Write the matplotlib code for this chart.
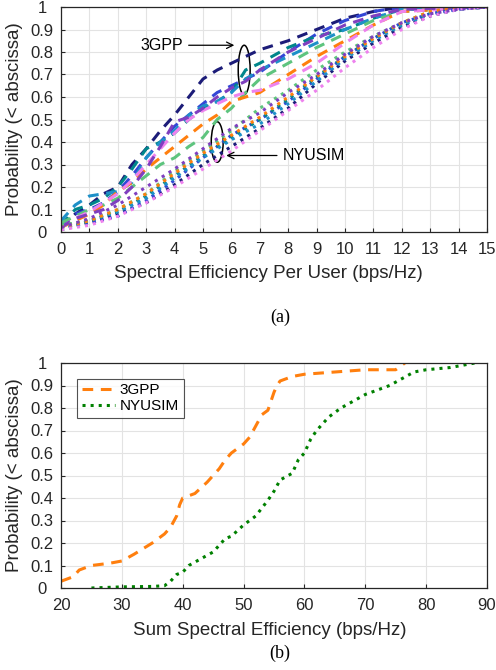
import numpy as np
import matplotlib.pyplot as plt
from matplotlib.patches import Ellipse

plt.rcParams['font.family'] = ['Liberation Sans', 'DejaVu Sans']

colors = ['#1c1c78', '#3347d6', '#00868b', '#1e90c8', '#5ec47e', '#ff7f0e', '#ee82ee', '#7f3fbf']

# panel (a): per-user spectral efficiency CDFs
x3 = [0, 0.5, 1, 1.5, 2, 2.5, 3, 3.5, 4, 4.5, 5, 5.5, 6, 6.5, 7, 8, 9, 10, 11, 12, 15]
gpp = [
    [0.02, 0.08, 0.12, 0.17, 0.20, 0.30, 0.37, 0.45, 0.52, 0.60, 0.68, 0.72, 0.75, 0.78, 0.81, 0.85, 0.90, 0.95, 0.98, 1.00, 1.00],
    [0.03, 0.08, 0.10, 0.13, 0.18, 0.25, 0.33, 0.40, 0.47, 0.52, 0.57, 0.62, 0.65, 0.68, 0.71, 0.80, 0.88, 0.94, 0.98, 1.00, 1.00],
    [0.03, 0.10, 0.12, 0.15, 0.20, 0.28, 0.37, 0.40, 0.44, 0.50, 0.55, 0.58, 0.62, 0.72, 0.75, 0.82, 0.87, 0.90, 0.95, 0.99, 1.00],
    [0.05, 0.12, 0.16, 0.17, 0.18, 0.22, 0.33, 0.40, 0.45, 0.52, 0.56, 0.58, 0.62, 0.68, 0.72, 0.78, 0.84, 0.90, 0.95, 0.99, 1.00],
    [0.04, 0.07, 0.10, 0.12, 0.15, 0.20, 0.25, 0.30, 0.33, 0.38, 0.42, 0.50, 0.55, 0.62, 0.68, 0.75, 0.82, 0.88, 0.94, 0.98, 1.00],
    [0.02, 0.05, 0.08, 0.12, 0.18, 0.22, 0.28, 0.33, 0.38, 0.43, 0.48, 0.52, 0.58, 0.60, 0.62, 0.70, 0.78, 0.85, 0.92, 0.98, 1.00],
    [0.02, 0.06, 0.09, 0.13, 0.17, 0.23, 0.30, 0.37, 0.44, 0.50, 0.54, 0.57, 0.60, 0.62, 0.63, 0.68, 0.75, 0.84, 0.92, 0.98, 1.00],
    [0.02, 0.06, 0.08, 0.10, 0.14, 0.20, 0.28, 0.38, 0.49, 0.51, 0.55, 0.60, 0.64, 0.67, 0.72, 0.80, 0.86, 0.92, 0.96, 0.99, 1.00],
]
xn = [0, 1, 2, 3, 4, 5, 6, 7, 8, 9, 10, 11, 12, 13, 14, 15]
nyu = [
    [0.01, 0.04, 0.08, 0.13, 0.21, 0.30, 0.38, 0.46, 0.55, 0.66, 0.76, 0.84, 0.91, 0.96, 0.99, 1.00],
    [0.02, 0.04, 0.07, 0.14, 0.23, 0.33, 0.43, 0.50, 0.58, 0.68, 0.78, 0.86, 0.93, 0.97, 0.99, 1.00],
    [0.01, 0.05, 0.09, 0.16, 0.25, 0.34, 0.42, 0.50, 0.59, 0.69, 0.78, 0.86, 0.92, 0.97, 0.99, 1.00],
    [0.02, 0.05, 0.09, 0.15, 0.24, 0.33, 0.41, 0.48, 0.57, 0.67, 0.77, 0.85, 0.92, 0.97, 0.99, 1.00],
    [0.03, 0.05, 0.10, 0.17, 0.27, 0.36, 0.45, 0.55, 0.63, 0.72, 0.80, 0.87, 0.93, 0.98, 1.00, 1.00],
    [0.02, 0.05, 0.10, 0.17, 0.26, 0.35, 0.43, 0.51, 0.60, 0.69, 0.78, 0.86, 0.93, 0.98, 1.00, 1.00],
    [0.01, 0.03, 0.07, 0.13, 0.20, 0.28, 0.36, 0.45, 0.54, 0.63, 0.73, 0.82, 0.90, 0.96, 0.99, 1.00],
    [0.02, 0.06, 0.12, 0.20, 0.28, 0.37, 0.46, 0.53, 0.62, 0.70, 0.79, 0.87, 0.93, 0.97, 0.99, 1.00],
]

# panel (b): sum spectral efficiency CDFs
sum_x_3gpp = [20, 22, 23, 25, 28, 30, 32, 35, 37, 38, 39, 39.5, 40, 42, 44, 46, 47, 48, 50, 51, 52, 53, 54, 55, 55.5, 56, 58, 60, 65, 70, 75, 76, 76.5]
sum_p_3gpp = [0.03, 0.05, 0.08, 0.10, 0.11, 0.12, 0.15, 0.20, 0.24, 0.27, 0.32, 0.37, 0.40, 0.42, 0.47, 0.53, 0.57, 0.60, 0.64, 0.67, 0.72, 0.77, 0.79, 0.87, 0.90, 0.92, 0.94, 0.95, 0.96, 0.97, 0.97, 0.99, 1.00]
sum_x_nyu = [25, 30, 35, 37, 38, 39, 40, 41, 43, 45, 47, 48, 50, 51, 52, 54, 55, 56, 58, 59, 60, 61, 62, 64, 66, 68, 70, 72, 74, 76, 78, 80, 84, 88]
sum_p_nyu = [0.0, 0.005, 0.007, 0.01, 0.03, 0.06, 0.07, 0.10, 0.13, 0.16, 0.22, 0.23, 0.28, 0.30, 0.32, 0.39, 0.43, 0.48, 0.51, 0.57, 0.60, 0.66, 0.70, 0.76, 0.80, 0.83, 0.86, 0.88, 0.90, 0.93, 0.96, 0.97, 0.98, 1.00]

ylabels = ['0', '0.1', '0.2', '0.3', '0.4', '0.5', '0.6', '0.7', '0.8', '0.9', '1']

fig = plt.figure(figsize=(4.96, 6.70), dpi=100)
ax1 = fig.add_axes([61/496, 1-232/670, 426/496, 225/670])
ax2 = fig.add_axes([61/496, 1-588/670, 426/496, 225/670])

def style(ax):
    ax.grid(True, color='#e3e3e3', linewidth=0.8)
    ax.set_axisbelow(True)
    ax.tick_params(direction='in', labelsize=12, length=3, top=False, right=False, colors='#262626')
    ax.tick_params(axis='x', pad=7)
    ax.tick_params(axis='y', pad=13.5)
    ax.set_yticks(np.arange(0, 1.01, 0.1))
    ax.set_yticklabels(ylabels)
    for t in ax.get_yticklabels():
        t.set_ha('center')
    ax.set_ylim(0, 1)
    ax.set_ylabel('Probability (< abscissa)', fontsize=13.5, color='#262626')
    ax.yaxis.set_label_coords(-0.089, 0.5)
    for s in ax.spines.values():
        s.set_linewidth(0.9)
        s.set_color('#262626')

for c, y in zip(colors, gpp):
    ax1.plot(x3, y, '--', color=c, lw=2.2, dashes=(3.5, 2.5))
for c, y in zip(colors, nyu):
    ax1.plot(xn, y, ':', color=c, lw=2.2)
ax1.set_xlim(0, 15)
ax1.set_xticks(range(16))
ax1.set_xlabel('Spectral Efficiency Per User (bps/Hz)', fontsize=13.5, color='#262626')
style(ax1)
ax1.xaxis.set_label_coords(0.486, -0.147)

ax1.add_patch(Ellipse((6.45, 0.72), 0.42, 0.22, fill=False, lw=1.1, color='k'))
ax1.add_patch(Ellipse((5.5, 0.40), 0.42, 0.18, fill=False, lw=1.1, color='k'))
ax1.annotate('3GPP', xy=(6.2, 0.83), xytext=(4.3, 0.83), fontsize=11.5,
             ha='right', va='center', arrowprops=dict(arrowstyle='->', lw=0.9, color='k'))
ax1.annotate('NYUSIM', xy=(5.72, 0.34), xytext=(7.8, 0.34), fontsize=11.5,
             ha='left', va='center', arrowprops=dict(arrowstyle='->', lw=0.9, color='k'))

ax2.plot(sum_x_3gpp, sum_p_3gpp, '--', color='#ff7f0e', lw=2.2, dashes=(3.5, 2.5), label='3GPP')
ax2.plot(sum_x_nyu, sum_p_nyu, ':', color='#008000', lw=2.2, label='NYUSIM')
ax2.set_xlim(20, 90)
ax2.set_xticks(range(20, 91, 10))
ax2.set_xlabel('Sum Spectral Efficiency (bps/Hz)', fontsize=13.5, color='#262626')
style(ax2)
ax2.xaxis.set_label_coords(0.49, -0.151)
leg = ax2.legend(loc='upper left', fontsize=11, fancybox=False, edgecolor='#262626',
                 handlelength=2.2, borderpad=0.3, labelspacing=0.15, handletextpad=0.3,
                 bbox_to_anchor=(0.02, 0.965))
leg.get_frame().set_linewidth(0.8)

fig.text(280/496, 1-317/670, '(a)', ha='center', va='center', fontsize=13, family='Liberation Serif')
fig.text(280/496, 1-653/670, '(b)', ha='center', va='center', fontsize=13, family='Liberation Serif')

fig.savefig('out.png', dpi=100)
